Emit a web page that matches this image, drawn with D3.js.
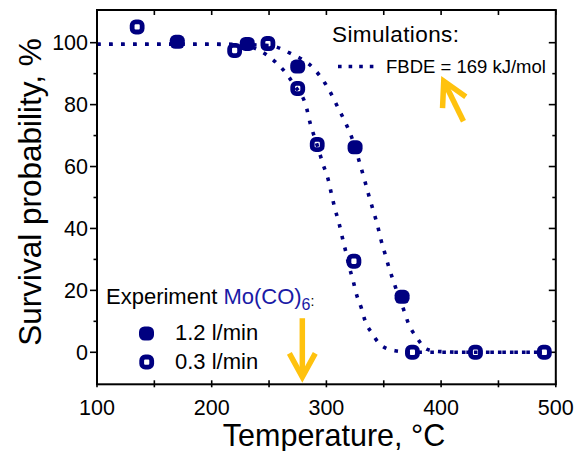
<!DOCTYPE html>
<html>
<head>
<meta charset="utf-8">
<script src="https://cdn.jsdelivr.net/npm/d3@7"></script>
<style>
  html, body { margin: 0; padding: 0; background: #fff; }
  text { font-family: "Liberation Sans", Arial, sans-serif; }
</style>
</head>
<body>
<svg id="chart" width="577" height="451"></svg>
<script>
// Survival probability of Mo(CO)6 vs. temperature

// Experimental points, 1.2 l/min (filled)
const tempHigh = [170, 231, 275, 325, 366];
const survHigh = [100.3, 99.6, 92.3, 66.2, 17.9];

// Experimental points, 0.3 l/min (open)
const tempLow = [135, 220, 249, 275, 292, 324, 375, 430, 490];
const survLow = [105.1, 97.5, 99.7, 85.2, 67.1, 29.4, 0, 0, 0];

// Simulated curve (FBDE = 169 kJ/mol), 0.3 l/min
const simLowT = [100, 150, 200, 225, 243.6, 253.7, 262.4, 272, 282.8, 285.7, 291, 297.3, 301.7, 304.6,
  307.5, 311.2, 314.2, 317.1, 320, 323.5, 326.4, 330.8, 333.7, 339.5, 347.3, 359.8, 375, 430, 490];
const simLowV = [99.5, 99.5, 99.5, 99.2, 97.1, 94.4, 91.2, 86.3, 78.8, 74.2, 68, 60.5, 55.6, 50.8,
  46.3, 41.4, 36.6, 32.2, 27.5, 22.8, 18.5, 13.9, 10.2, 6.3, 2.4, 0.5, 0, 0, 0];

// Simulated curve (FBDE = 169 kJ/mol), 1.2 l/min
const simHighT = [100, 200, 250, 268.3, 290.1, 298.8, 303.1, 310.4, 316.2, 322, 329.3, 333.7, 337.1,
  340.9, 344.7, 347.6, 351.1, 354.6, 358.9, 363, 367.7, 371.4, 378.7, 387.4, 396.2, 420, 490];
const simHighV = [99.5, 99.5, 99.1, 96.6, 91.2, 86.9, 84.2, 78.8, 74.5, 69.5, 60.8, 55.1, 50.5,
  45.7, 40.8, 36.3, 31.8, 27.3, 22.5, 18, 13.4, 9.4, 4.8, 1.0, 0.3, 0, 0];

// Axis ticks
const xMajor = [100, 200, 300, 400, 500];
const xMinor = [150, 250, 350, 450];
const yMajor = [0, 20, 40, 60, 80, 100];
const yMinor = [10, 30, 50, 70, 90];

// Arrow annotations: [tailT, tailV, tipT, tipV]
const arrowDown = [279, 11, 279, -8];
const arrowUp = [419.5, 74.6, 402.3, 87.6];

const navy = "#000080";
const yellow = "#ffc20e";

const svg = d3.select("#chart");
const x = d3.scaleLinear().domain([100, 500]).range([97, 555.8]);
const y = d3.scaleLinear().domain([-10.34, 110.56]).range([384.3, 10]);

const [x0, x1] = x.range();
const [yb, yt] = y.range();

// Simulated curves
const line = d3.line().x(d => x(d[0])).y(d => y(d[1])).curve(d3.curveMonotoneX);
const sims = [d3.zip(simLowT, simLowV), d3.zip(simHighT, simHighV)];
svg.append("g").selectAll("path").data(sims).join("path")
  .attr("d", line)
  .attr("fill", "none")
  .attr("stroke", navy)
  .attr("stroke-width", 3.6)
  .attr("stroke-dasharray", "3.6,8.4");

// Frame
const axisG = svg.append("g").attr("stroke", "#000").attr("fill", "none");
axisG.append("rect")
  .attr("x", x0).attr("y", yt).attr("width", x1 - x0).attr("height", yb - yt)
  .attr("stroke-width", 2);

// Ticks: x bottom (crossing), top (inward)
const tk = axisG.append("g").attr("stroke-width", 1.6);
xMajor.concat(xMinor).forEach(t => {
  tk.append("line").attr("x1", x(t)).attr("x2", x(t)).attr("y1", yb - 4).attr("y2", yb + 3);
  tk.append("line").attr("x1", x(t)).attr("x2", x(t)).attr("y1", yt).attr("y2", yt + 5);
});
// y left (outward), right (inward)
yMajor.forEach(v => {
  tk.append("line").attr("y1", y(v)).attr("y2", y(v)).attr("x1", x0 - 7).attr("x2", x0);
  tk.append("line").attr("y1", y(v)).attr("y2", y(v)).attr("x1", x1 - 7).attr("x2", x1);
});
yMinor.forEach(v => {
  tk.append("line").attr("y1", y(v)).attr("y2", y(v)).attr("x1", x0 - 3.5).attr("x2", x0);
  tk.append("line").attr("y1", y(v)).attr("y2", y(v)).attr("x1", x1 - 3.5).attr("x2", x1);
});

// Tick labels
svg.append("g").selectAll("text").data(xMajor).join("text")
  .attr("x", d => x(d)).attr("y", 414.5)
  .attr("text-anchor", "middle").attr("font-size", 21.5)
  .text(d => d);
svg.append("g").selectAll("text").data(yMajor).join("text")
  .attr("x", 88).attr("y", d => y(d)).attr("dy", "0.36em")
  .attr("text-anchor", "end").attr("font-size", 21.5)
  .text(d => d);

// Axis titles
svg.append("text")
  .attr("x", 334).attr("y", 446)
  .attr("text-anchor", "middle").attr("font-size", 30.5)
  .text("Temperature, °C");
svg.append("text")
  .attr("transform", "translate(41,192) rotate(-90)")
  .attr("text-anchor", "middle").attr("font-size", 31.5)
  .text("Survival probability, %");

// Markers
function filledMarker(sel) {
  sel.attr("width", 15).attr("height", 14).attr("rx", 5.5).attr("ry", 5.5)
    .attr("fill", navy).attr("stroke", "none");
}
function openMarker(sel) {
  sel.attr("width", 10).attr("height", 10.2).attr("rx", 3.5).attr("ry", 3.5)
    .attr("fill", "none").attr("stroke", navy).attr("stroke-width", 4.8);
}
svg.append("g").selectAll("rect").data(d3.zip(tempLow, survLow)).join("rect")
  .attr("x", d => x(d[0]) - 5).attr("y", d => y(d[1]) - 5.1)
  .call(openMarker);
svg.append("g").selectAll("rect").data(d3.zip(tempHigh, survHigh)).join("rect")
  .attr("x", d => x(d[0]) - 7.5).attr("y", d => y(d[1]) - 7)
  .call(filledMarker);

// Simulation legend
svg.append("text").attr("x", 332).attr("y", 41.5).attr("font-size", 22.5)
  .attr("letter-spacing", 0.4).text("Simulations:");
svg.append("line").attr("x1", 338).attr("x2", 374).attr("y1", 66.5).attr("y2", 66.5)
  .attr("stroke", navy).attr("stroke-width", 3.6).attr("stroke-dasharray", "3.6,7");
svg.append("text").attr("x", 386).attr("y", 72.7).attr("font-size", 18.5)
  .text("FBDE = 169 kJ/mol");

// Experiment legend
const exp = svg.append("text").attr("x", 106).attr("y", 303.5).attr("font-size", 22);
exp.append("tspan").text("Experiment ");
exp.append("tspan").attr("fill", "#1a1aa6").text("Mo(CO)");
exp.append("tspan").attr("fill", "#1a1aa6").attr("font-size", 16).attr("dy", 6).text("6");
exp.append("tspan").attr("font-size", 14).attr("dy", -4).text(":");

svg.append("rect").attr("x", 139).attr("y", 326.5).call(filledMarker);
svg.append("rect").attr("x", 141.7).attr("y", 357).call(openMarker);
svg.append("text").attr("x", 175).attr("y", 340).attr("font-size", 22).text("1.2 l/min");
svg.append("text").attr("x", 175).attr("y", 369).attr("font-size", 22).text("0.3 l/min");

// Yellow arrows
function arrow(a) {
  const tx = x(a[0]), ty = y(a[1]), hx = x(a[2]), hy = y(a[3]);
  const ang = Math.atan2(hy - ty, hx - tx);
  const L = 27, spread = 0.5;
  const g = svg.append("g").attr("stroke", yellow).attr("stroke-width", 5.5)
    .attr("fill", "none").attr("stroke-linecap", "butt").attr("stroke-linejoin", "miter");
  g.append("line").attr("x1", tx).attr("y1", ty)
    .attr("x2", hx - 3 * Math.cos(ang)).attr("y2", hy - 3 * Math.sin(ang));
  g.append("path").attr("d", d3.line()([
    [hx - L * Math.cos(ang - spread), hy - L * Math.sin(ang - spread)],
    [hx, hy],
    [hx - L * Math.cos(ang + spread), hy - L * Math.sin(ang + spread)]
  ]));
}
arrow(arrowDown);
arrow(arrowUp);
</script>
</body>
</html>
